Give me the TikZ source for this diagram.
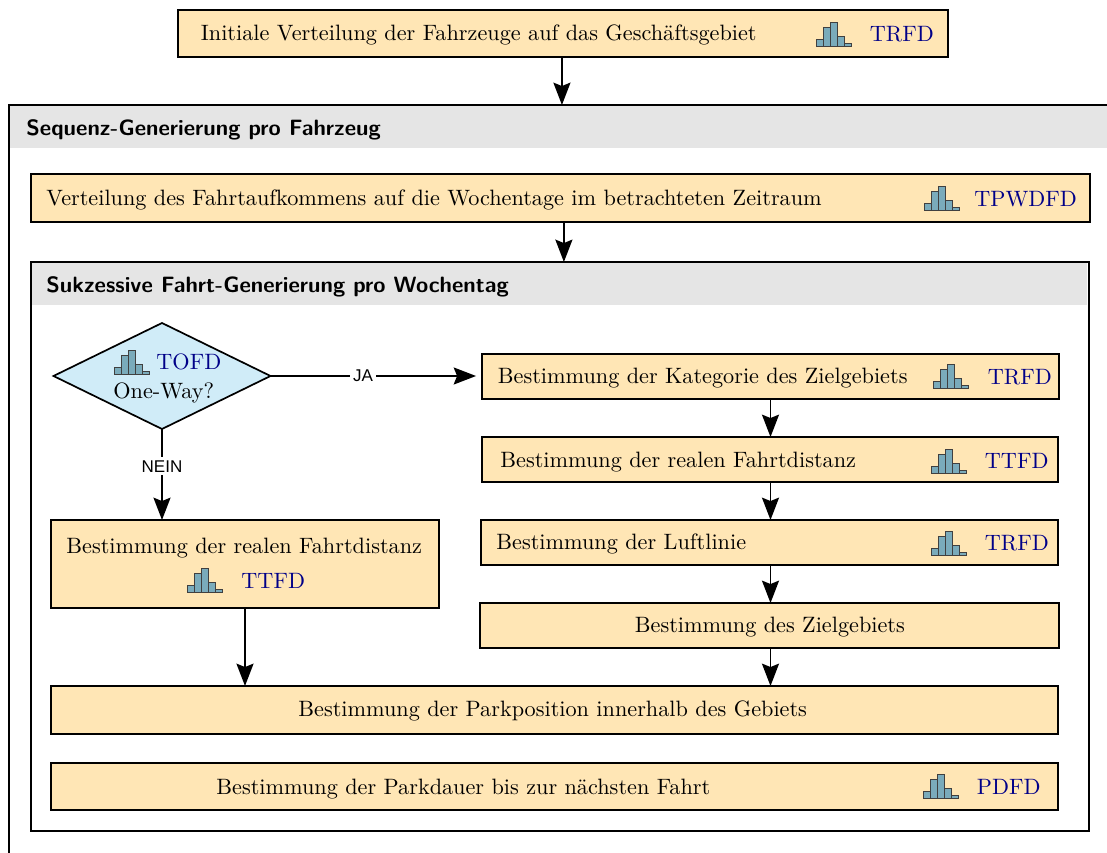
\documentclass[tikz,border=0pt]{standalone}
\usepackage{fontspec}
\usetikzlibrary{fit,arrows.meta,shapes.geometric}
\newfontfamily\lblfont{Liberation Sans}
\definecolor{boxfill}{HTML}{FFE6B5}
\definecolor{diafill}{HTML}{D0ECF8}
\definecolor{headfill}{HTML}{E5E5E5}
\definecolor{barfill}{HTML}{7AABBB}
\definecolor{refblue}{HTML}{000088}
\tikzset{
  x=0.47pt,y=-0.47pt,
  frame/.style={draw=black,line width=0.8pt,inner sep=0pt,outer sep=0pt},
  procbox/.style={frame,fill=boxfill},
  group/.style={frame,fill=white},
  head/.style={fill=headfill,inner sep=0pt,outer sep=0pt},
  txt/.style={anchor=base west,inner sep=0pt,font=\fontsize{10.45}{12}\selectfont},
  ref/.style={txt,text=refblue},
  title/.style={anchor=base west,inner sep=0pt,font=\fontsize{10.42}{12}\selectfont\sffamily\bfseries},
  arr/.style={-{Stealth[length=10.5pt,width=8pt,inset=1.6pt]},line width=0.9pt},
  lbl/.style={fill=white,inner sep=1.5pt,font=\fontsize{8}{9}\selectfont\lblfont},
  bar/.style={draw=black!75,line width=0.45pt,fill=barfill},
  hist/.pic={
    \draw[bar] (0,0) rectangle (7,-7);
    \draw[bar] (7,0) rectangle (14,-19);
    \draw[bar] (14,0) rectangle (21,-24);
    \draw[bar] (21,0) rectangle (28,-10);
    \draw[bar] (28,0) rectangle (35,-3);
  }
}
\begin{document}
\begin{tikzpicture}
\useasboundingbox (0,0) rectangle (1107,853);
\clip (0,0) rectangle (1107,853);
% frames
\node[procbox,fit={(178,10)(948,57)}] (top) {};
\node[group,fit={(9,105)(1125,880)}] (outer) {};
\node[head,fit={(10,106)(1107,148)}] (outerhead) {};
\node[procbox,fit={(31,174)(1090,222)}] (verteil) {};
\node[group,fit={(31,262)(1089,831)}] (inner) {};
\node[head,fit={(32,263)(1087,305)}] (innerhead) {};
\node[diamond,aspect=2.05,draw=black,line width=0.8pt,fill=diafill,inner sep=0pt,outer sep=0pt,minimum width=217*0.47pt,minimum height=106*0.47pt] (oneway) at (162,376) {};
\node[procbox,fit={(482,354)(1059,399)}] (kat) {};
\node[procbox,fit={(482,437)(1058,482)}] (dist) {};
\node[procbox,fit={(481,520)(1058,565)}] (luft) {};
\node[procbox,fit={(480,603)(1059,648)}] (ziel) {};
\node[procbox,fit={(51,520)(439,608)}] (distb) {};
\node[procbox,fit={(51,686)(1058,734)}] (park) {};
\node[procbox,fit={(51,763)(1058,810)}] (dauer) {};
% titles
\node[title] (t1) at (26,136) {Sequenz-Generierung pro Fahrzeug};
\node[title] (t2) at (46,293) {Sukzessive Fahrt-Generierung pro Wochentag};
% texts
\node[txt] (x1) at (200.5,41) {Initiale Verteilung der Fahrzeuge auf das Geschäftsgebiet};
\node[ref] (r1) at (869.5,42) {TRFD};
\pic at (816,46) {hist};
\node[txt] (x2) at (46,206) {Verteilung des Fahrtaufkommens auf die Wochentage im betrachteten Zeitraum};
\node[ref] (r2) at (974,207) {TPWDFD};
\pic at (924,210) {hist};
\node[txt] (x3) at (497.5,384) {Bestimmung der Kategorie des Zielgebiets};
\node[ref] (r3) at (987.5,385) {TRFD};
\pic at (933,388) {hist};
\node[txt] (x4) at (500,468) {Bestimmung der realen Fahrtdistanz};
\node[ref] (r4) at (984.5,469) {TTFD};
\pic at (931,473) {hist};
\node[txt] (x5) at (496,550) {Bestimmung der Luftlinie};
\node[ref] (r5) at (984.5,551) {TRFD};
\pic at (931,555) {hist};
\node[txt] (x6) at (634.5,633) {Bestimmung des Zielgebiets};
\node[txt] (x7) at (66,554) {Bestimmung der realen Fahrtdistanz};
\node[ref] (r7) at (241,589) {TTFD};
\pic at (187,592) {hist};
\node[txt] (x8) at (298,717) {Bestimmung der Parkposition innerhalb des Gebiets};
\node[txt] (x9) at (216,794) {Bestimmung der Parkdauer bis zur nächsten Fahrt};
\node[ref] (r9) at (976.5,794) {PDFD};
\pic at (923,798) {hist};
\node[ref] (r0) at (156,370) {TOFD};
\pic at (114,374) {hist};
\node[txt] (x0) at (113,399) {One-Way?};
% connectors
\draw[arr] ([xshift=-0.5pt]top.south) -- ([xshift=-0.5pt]top.south |- outer.north);
\draw[arr] ([xshift=1.6pt]verteil.south) -- ([xshift=1.6pt]verteil.south |- inner.north);
\coordinate (jaend) at ([xshift=-2.8pt]oneway.east -| kat.west);
\draw[arr] (oneway.east) -- node[lbl,pos=0.45] (ja) {JA} (jaend);
\draw[arr] (oneway.south) -- node[lbl,pos=0.41] (nein) {NEIN} (oneway.south |- distb.north);
\draw[arr] (kat.south -| 770.5,0) -- (dist.north -| 770.5,0);
\draw[arr] (dist.south -| 770.5,0) -- (luft.north -| 770.5,0);
\draw[arr] (luft.south -| 770.5,0) -- (ziel.north -| 770.5,0);
\draw[arr] (ziel.south -| 770.5,0) -- (park.north -| 770.5,0);
\draw[arr] (distb.south) -- (distb.south |- park.north);
\end{tikzpicture}
\end{document}
